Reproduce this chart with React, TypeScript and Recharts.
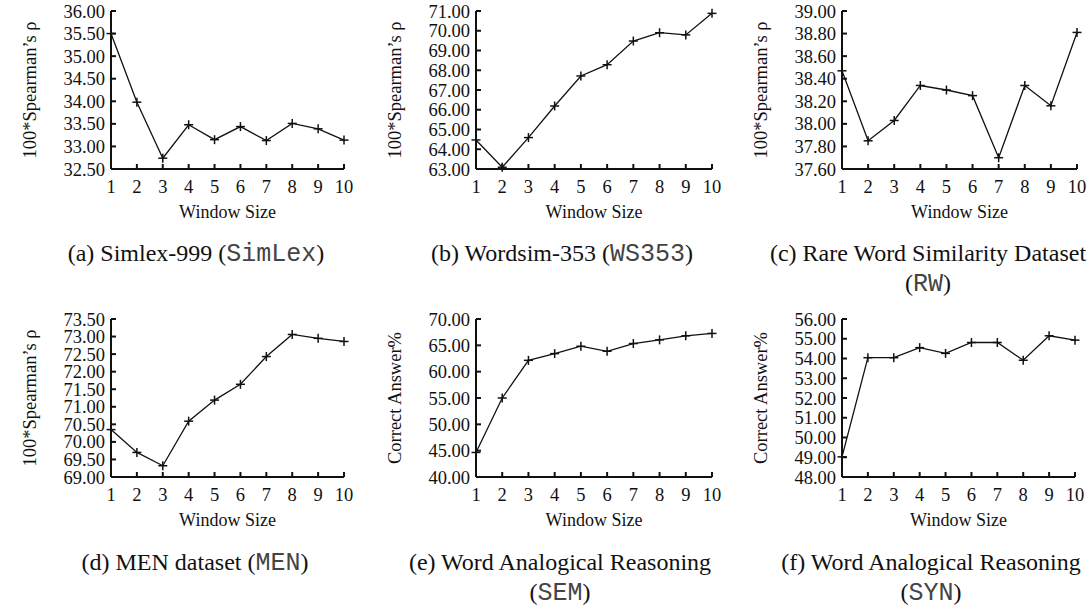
import React from 'react'
import { LineChart, Line, XAxis, YAxis } from 'recharts'

// window sizes on the x axis
const windowSizes = [1, 2, 3, 4, 5, 6, 7, 8, 9, 10]

// scores per dataset
const simlex = [35.5, 33.98, 32.74, 33.48, 33.15, 33.44, 33.13, 33.51, 33.39, 33.14]
const ws353 = [64.47, 63.09, 64.59, 66.19, 67.71, 68.28, 69.48, 69.9, 69.79, 70.88]
const rw = [38.47, 37.85, 38.03, 38.34, 38.3, 38.25, 37.7, 38.34, 38.16, 38.81]
const men = [70.35, 69.7, 69.32, 70.59, 71.19, 71.64, 72.43, 73.06, 72.95, 72.86]
const sem = [44.66, 55.0, 62.15, 63.43, 64.83, 63.87, 65.34, 66.04, 66.81, 67.26]
const syn = [49.02, 54.04, 54.04, 54.55, 54.26, 54.81, 54.81, 53.91, 55.15, 54.93]

// y tick labels
const simlexTicks = [32.5, 33, 33.5, 34, 34.5, 35, 35.5, 36]
const ws353Ticks = [63, 64, 65, 66, 67, 68, 69, 70, 71]
const rwTicks = [37.6, 37.8, 38, 38.2, 38.4, 38.6, 38.8, 39]
const menTicks = [69, 69.5, 70, 70.5, 71, 71.5, 72, 72.5, 73, 73.5]
const semTicks = [40, 45, 50, 55, 60, 65, 70]
const synTicks = [48, 49, 50, 51, 52, 53, 54, 55, 56]

const SERIF = '"Liberation Serif", "Times New Roman", serif'
const MONO = '"Liberation Mono", "Courier New", monospace'
const INK = '#111'

const PlusDot = ({ cx, cy }: any) => {
  if (cx == null || cy == null) return null
  const r = 4.5
  return (
    <g stroke={INK} strokeWidth={1.5}>
      <line x1={cx - r} y1={cy} x2={cx + r} y2={cy} />
      <line x1={cx} y1={cy - r} x2={cx} y2={cy + r} />
    </g>
  )
}

const YTitle = ({ viewBox, value }: any) => {
  const cx = viewBox.x + viewBox.width - 81
  const cy = viewBox.y + viewBox.height / 2
  return (
    <text
      x={cx}
      y={cy}
      transform={`rotate(-90 ${cx} ${cy})`}
      textAnchor="middle"
      dominantBaseline="central"
      fontFamily={SERIF}
      fontSize={18.5}
      fill={INK}
    >
      {value}
    </text>
  )
}

const XTitle = ({ viewBox, value }: any) => {
  const cx = viewBox.x + viewBox.width / 2
  const cy = viewBox.y + 43
  return (
    <text
      x={cx}
      y={cy}
      textAnchor="middle"
      dominantBaseline="central"
      fontFamily={SERIF}
      fontSize={18}
      fill={INK}
    >
      {value}
    </text>
  )
}

interface PanelProps {
  values: number[]
  ticks: number[]
  yTitle: string
  frameLeft: number
  frameRight: number
  frameTop: number
}

function Panel({ values, ticks, yTitle, frameLeft, frameRight, frameTop }: PanelProps) {
  const data = windowSizes.map((w, i) => ({ w, v: values[i] }))
  const plotW = frameRight - frameLeft
  const domain: [number, number] = [ticks[0], ticks[ticks.length - 1]]
  const tickStyle = { fontFamily: SERIF, fontSize: 18.5, fill: INK }
  const frame = { stroke: INK, strokeWidth: 2 }

  return (
    <div style={{ position: 'absolute', left: frameLeft - 110, top: frameTop - 10 }}>
      <LineChart
        width={plotW + 130}
        height={228}
        data={data}
        margin={{ top: 10, right: 20, left: 0, bottom: 0 }}
      >
        <XAxis
          dataKey="w"
          type="number"
          domain={[1, 10]}
          ticks={windowSizes}
          interval={0}
          height={60}
          tickSize={-5}
          tickMargin={16}
          tick={tickStyle}
          tickLine={frame}
          axisLine={frame}
          label={<XTitle value="Window Size" />}
        />
        <XAxis
          xAxisId="top"
          orientation="top"
          type="number"
          domain={[1, 10]}
          ticks={windowSizes}
          interval={0}
          height={0}
          tickSize={-5}
          tick={false}
          tickLine={frame}
          axisLine={frame}
        />
        <YAxis
          type="number"
          domain={domain}
          ticks={ticks}
          interval={0}
          width={110}
          tickSize={-5}
          tickMargin={11}
          tick={tickStyle}
          tickLine={frame}
          axisLine={frame}
          tickFormatter={(v: number) => v.toFixed(2)}
          label={<YTitle value={yTitle} />}
        />
        <YAxis
          yAxisId="right"
          orientation="right"
          type="number"
          domain={domain}
          ticks={ticks}
          interval={0}
          width={0}
          tickSize={-5}
          tick={false}
          tickLine={frame}
          axisLine={frame}
        />
        <Line
          dataKey="v"
          stroke={INK}
          strokeWidth={1.3}
          dot={<PlusDot />}
          activeDot={false}
          isAnimationActive={false}
        />
      </LineChart>
    </div>
  )
}

const Caption = ({ center, top, lines }: { center: number; top: number; lines: [string, string, string][] }) => (
  <div
    style={{
      position: 'absolute',
      left: center - 220,
      top,
      width: 440,
      textAlign: 'center',
      fontFamily: SERIF,
      fontSize: 24,
      lineHeight: '28px',
      color: INK,
      whiteSpace: 'nowrap',
    }}
  >
    {lines.map(([pre, mono, post], i) => (
      <div key={i}>
        {pre}
        <span style={{ fontFamily: MONO, fontSize: 25, color: '#444' }}>{mono}</span>
        {post}
      </div>
    ))}
  </div>
)

export default function App() {
  const spearman = '100*Spearman\u2019s \u03c1'
  return (
    <div
      style={{
        position: 'absolute',
        left: 0,
        top: 0,
        width: 1091,
        height: 607,
        overflow: 'hidden',
        background: '#fff',
      }}
    >
      <Panel values={simlex} ticks={simlexTicks} yTitle={spearman} frameLeft={111} frameRight={344} frameTop={11} />
      <Panel values={ws353} ticks={ws353Ticks} yTitle={spearman} frameLeft={476} frameRight={712} frameTop={11} />
      <Panel values={rw} ticks={rwTicks} yTitle={spearman} frameLeft={842} frameRight={1077} frameTop={11} />
      <Panel values={men} ticks={menTicks} yTitle={spearman} frameLeft={111} frameRight={344} frameTop={319} />
      <Panel values={sem} ticks={semTicks} yTitle="Correct Answer%" frameLeft={476} frameRight={712} frameTop={319} />
      <Panel values={syn} ticks={synTicks} yTitle="Correct Answer%" frameLeft={842} frameRight={1075} frameTop={319} />

      <Caption center={196} top={239} lines={[['(a) Simlex-999 (', 'SimLex', ')']]} />
      <Caption center={562} top={239} lines={[['(b) Wordsim-353 (', 'WS353', ')']]} />
      <Caption center={928} top={239} lines={[['(c) Rare Word Similarity Dataset', '', ''], ['(', 'RW', ')']]} />
      <Caption center={195} top={548} lines={[['(d) MEN dataset (', 'MEN', ')']]} />
      <Caption center={560} top={548} lines={[['(e) Word Analogical Reasoning', '', ''], ['(', 'SEM', ')']]} />
      <Caption center={931} top={548} lines={[['(f) Word Analogical Reasoning', '', ''], ['(', 'SYN', ')']]} />
    </div>
  )
}
